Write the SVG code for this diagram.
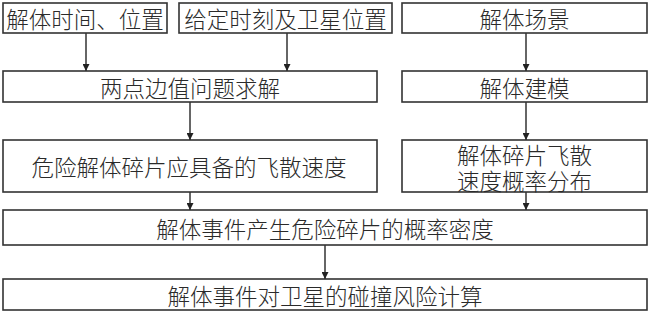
<svg xmlns="http://www.w3.org/2000/svg" width="650" height="314" viewBox="0 0 650 314">
<style>
rect{fill:#fff;stroke:#333;stroke-width:1.6}
text{font-family:"Noto Sans CJK SC","Noto Sans",sans-serif;font-size:22.5px;font-weight:300;fill:#2a2a2a;text-anchor:middle;dominant-baseline:central}
.c line{stroke:#333;stroke-width:1.5}
</style>
<defs>
<marker id="a" viewBox="0 0 10 10" refX="10" refY="5" markerWidth="8" markerHeight="7" markerUnits="userSpaceOnUse" orient="auto">
<path d="M0,0L10,5L0,10z" fill="#222"/>
</marker>
</defs>
<rect width="650" height="314" fill="#fff" style="stroke:none"/>
<g id="n1"><rect x="3" y="3" width="164" height="30"/><text x="85" y="18">解体时间、位置</text></g>
<g id="n2"><rect x="179" y="3" width="213" height="30"/><text x="285.5" y="18">给定时刻及卫星位置</text></g>
<g id="n3"><rect x="402" y="3" width="245" height="30"/><text x="524.5" y="18">解体场景</text></g>
<g id="n4"><rect x="3" y="71" width="374" height="31"/><text x="190" y="86.5">两点边值问题求解</text></g>
<g id="n5"><rect x="402" y="71" width="245" height="31"/><text x="524.5" y="86.5">解体建模</text></g>
<g id="n6"><rect x="3" y="140" width="374" height="52"/><text x="189" y="166">危险解体碎片应具备的飞散速度</text></g>
<g id="n7"><rect x="402" y="140" width="245" height="52"/><text x="524.5" y="153.5">解体碎片飞散<tspan x="524.5" y="179.5">速度概率分布</tspan></text></g>
<g id="n8"><rect x="3" y="210" width="644" height="35"/><text x="325" y="227.5">解体事件产生危险碎片的概率密度</text></g>
<g id="n9"><rect x="3" y="279" width="644" height="31"/><text x="325" y="294.5">解体事件对卫星的碰撞风险计算</text></g>
<g class="c" id="connectors">
<line x1="86" y1="33" x2="86" y2="71" marker-end="url(#a)"/>
<line x1="287" y1="33" x2="287" y2="71" marker-end="url(#a)"/>
<line x1="526" y1="33" x2="526" y2="71" marker-end="url(#a)"/>
<line x1="190" y1="102" x2="190" y2="140" marker-end="url(#a)"/>
<line x1="526" y1="102" x2="526" y2="140" marker-end="url(#a)"/>
<line x1="190" y1="192" x2="190" y2="210" marker-end="url(#a)"/>
<line x1="526" y1="192" x2="526" y2="210" marker-end="url(#a)"/>
<line x1="325" y1="245" x2="325" y2="279" marker-end="url(#a)"/>
</g>
</svg>
